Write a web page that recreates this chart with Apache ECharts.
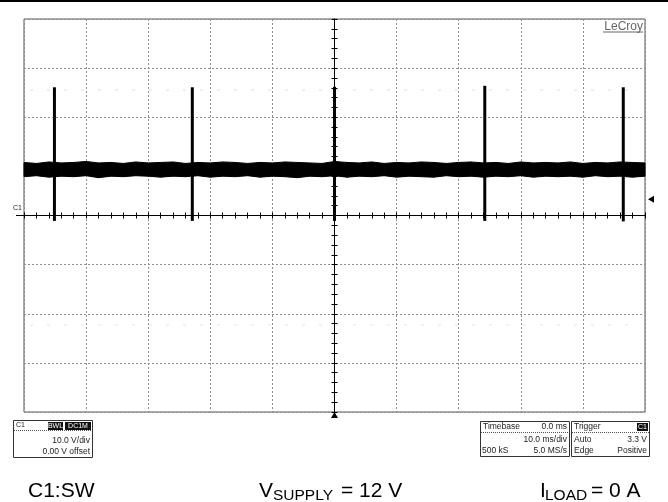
<!DOCTYPE html>
<html>
<head>
<meta charset="utf-8">
<title>C1:SW</title>
<script src="https://cdn.jsdelivr.net/npm/echarts@6/dist/echarts.min.js"></script>
<style>
  body { margin: 0; background: #fff; }
  #main { width: 668px; height: 502px; }
</style>
</head>
<body>
<div id="main"></div>
<script>
// scope settings: 10 ms/div, 10 V/div, 0 V offset
var timeRange = [-50, 50];   // ms
var voltRange = [-40, 40];   // V
var trigTime = 0.0;          // ms
var trigLevel = 3.3;         // V

// noise band of the SW node, envelope read every 2 ms
var noiseT = [-50,-48,-46,-44,-42,-40,-38,-36,-34,-32,-30,-28,-26,-24,-22,-20,-18,-16,-14,-12,-10,-8,-6,-4,-2,0,
              2,4,6,8,10,12,14,16,18,20,22,24,26,28,30,32,34,36,38,40,42,44,46,48,50];
var noiseHigh = [10.8,10.6,10.9,10.7,10.8,11.0,10.7,10.8,10.6,10.9,
                 10.7,10.8,10.9,10.6,10.8,10.7,10.9,10.8,10.6,10.8,
                 10.7,10.9,10.8,10.7,10.6,11.0,10.8,10.7,10.9,10.6,
                 10.8,10.7,10.9,10.8,10.6,10.8,10.9,10.7,10.8,10.6,
                 10.9,10.7,10.8,10.7,10.9,10.6,10.8,10.7,10.9,10.8,10.7];
var noiseLow = [7.9,8.1,7.8,8.0,7.9,8.1,7.7,8.0,7.9,8.1,
                8.0,7.8,8.0,7.9,8.1,7.8,8.0,7.9,8.1,7.8,
                8.0,7.9,7.7,8.0,7.9,8.1,7.8,8.0,7.9,8.1,
                7.8,8.0,7.9,7.8,8.1,7.9,8.0,7.8,8.0,7.9,
                8.1,7.8,8.0,7.9,8.0,7.8,8.1,7.9,8.0,7.8,8.0];

// switching bursts
var spikeT = [-45.1, -22.9, 0.0, 24.2, 46.5];
var spikeHigh = [26.1, 26.1, 26.2, 26.4, 26.1];
var spikeLow = [-1.1, -1.1, -1.1, -1.1, -1.2];

var chart = echarts.init(document.getElementById('main'), null, {renderer: 'canvas'});

var bandData = [], spikeData = [];
for (var i = 0; i < noiseT.length; i++) {
    bandData.push([noiseT[i], noiseLow[i], noiseHigh[i]]);
}
for (var j = 0; j < spikeT.length; j++) {
    spikeData.push([spikeT[j], spikeLow[j], spikeHigh[j]]);
}

var FONT = 'Liberation Sans';
var gridSplit = {show: true, lineStyle: {color: '#8f8f8f', type: [2, 2], width: 1}};
var blk = {color: '#000', width: 1};

function xAx(pos, split) {
    return {
        type: 'value', min: timeRange[0], max: timeRange[1], interval: 10, position: pos,
        axisLine: {show: true, onZero: true, onZeroAxisIndex: 0, lineStyle: blk},
        axisTick: {show: true, length: 3, lineStyle: blk},
        minorTick: {show: true, splitNumber: 5, length: 3, lineStyle: blk},
        axisLabel: {show: false},
        splitLine: split ? gridSplit : {show: false}
    };
}
function yAx(pos, split) {
    return {
        type: 'value', min: voltRange[0], max: voltRange[1], interval: 10, position: pos,
        axisLine: {show: true, onZero: true, onZeroAxisIndex: 0, lineStyle: blk},
        axisTick: {show: true, length: 3, lineStyle: blk},
        minorTick: {show: true, splitNumber: 5, length: 3, lineStyle: blk},
        axisLabel: {show: false},
        splitLine: split ? gridSplit : {show: false}
    };
}

function txt(x, y, s, align, size, color) {
    return {type: 'text', x: x, y: y, silent: true,
        style: {text: s, fill: color || '#222', font: (size || 8) + 'px "' + FONT + '"',
            align: align || 'left', verticalAlign: 'middle'}};
}
function box(x, y, w, h) {
    return {type: 'rect', shape: {x: x, y: y, width: w, height: h},
        style: {fill: '#fff', stroke: '#333', lineWidth: 1}};
}
function dots(x1, x2, y) {
    return {type: 'line', shape: {x1: x1, y1: y, x2: x2, y2: y},
        style: {stroke: '#555', lineWidth: 1, lineDash: [1, 1]}};
}
function badge(x, y, w, s) {
    return [
        {type: 'rect', shape: {x: x, y: y, width: w, height: 8}, style: {fill: '#111'}},
        txt(x + w / 2, y + 4, s, 'center', 7, '#fff')
    ];
}

var graphics = [
    // page rule
    {type: 'rect', shape: {x: 0, y: 0, width: 668, height: 2}, style: {fill: '#000'}},
    // LeCroy logo
    txt(643, 26.5, 'LeCroy', 'right', 12, '#666'),
    {type: 'line', shape: {x1: 603, y1: 32, x2: 643, y2: 32}, style: {stroke: '#666', lineWidth: 1}},
    // faint display rows
    {type: 'line', shape: {x1: 30, y1: 90, x2: 640, y2: 90}, style: {stroke: '#dcdcdc', lineWidth: 1, lineDash: [3, 14]}},
    {type: 'line', shape: {x1: 30, y1: 325, x2: 640, y2: 325}, style: {stroke: '#e2e2e2', lineWidth: 1, lineDash: [3, 14]}},
    // channel box
    box(13.5, 420.5, 79, 37),
    dots(14, 92, 430.5),
    txt(16, 425, 'C1', 'left', 7),
    txt(90, 441, '10.0 V/div', 'right', 8.5),
    txt(90, 451.5, '0.00 V offset', 'right', 8.5),
    // timebase box
    box(480.5, 421.5, 89, 35),
    dots(481, 569, 432.5),
    txt(483, 427, 'Timebase', 'left', 8.5),
    txt(567, 427, '0.0 ms', 'right', 8.5),
    txt(567, 440, '10.0 ms/div', 'right', 8.5),
    txt(482, 451, '500 kS', 'left', 8.5),
    txt(567, 451, '5.0 MS/s', 'right', 8.5),
    // trigger box
    box(571.5, 421.5, 78, 35),
    dots(572, 649, 432.5),
    txt(574, 427, 'Trigger', 'left', 8.5),
    txt(574, 440, 'Auto', 'left', 8.5),
    txt(647, 440, '3.3 V', 'right', 8.5),
    txt(574, 451, 'Edge', 'left', 8.5),
    txt(647, 451, 'Positive', 'right', 8.5),
    // captions
    txt(28, 491, 'C1:SW', 'left', 21, '#000'),
    txt(259, 491, 'V', 'left', 21, '#000'),
    txt(273, 496, 'SUPPLY', 'left', 15.5, '#000'),
    txt(341, 491, '= 12 V', 'left', 21, '#000'),
    txt(540, 491, 'I', 'left', 21, '#000'),
    txt(545, 496, 'LOAD', 'left', 15.5, '#000'),
    txt(591, 491, '= 0 A', 'left', 21, '#000')
];
graphics = graphics.concat(badge(48, 422, 15, 'BWL'), badge(65, 422, 26, 'DC1M'), badge(637, 423, 11, 'C1'));

var option = {
    animation: false,
    backgroundColor: '#fff',
    grid: {left: 24, top: 19, width: 621, height: 393, show: true, borderColor: '#555', borderWidth: 1, containLabel: false},
    xAxis: [xAx('bottom', true), xAx('top', false)],
    yAxis: [yAx('left', true), yAx('right', false)],
    series: [
        {
            // envelope of the noise band, one quad per sample step
            name: 'band', type: 'custom', data: bandData, z: 3,
            encode: {x: 0, y: [1, 2]},
            renderItem: function (params, api) {
                var k = params.dataIndex;
                if (k >= noiseT.length - 1) return null;
                var a = api.coord([noiseT[k], noiseHigh[k]]);
                var b = api.coord([noiseT[k + 1], noiseHigh[k + 1]]);
                var c = api.coord([noiseT[k + 1], noiseLow[k + 1]]);
                var d = api.coord([noiseT[k], noiseLow[k]]);
                return {type: 'polygon', shape: {points: [a, b, c, d]},
                    style: {fill: '#000', stroke: '#000', lineWidth: 1}};
            },
            markPoint: {
                symbol: 'triangle', label: {show: false}, itemStyle: {color: '#000'},
                data: [
                    {coord: [trigTime, voltRange[0]], symbolSize: [7, 6], symbolOffset: [0, 3]},
                    {coord: [timeRange[1], trigLevel], symbolSize: [7, 6], symbolRotate: 90, symbolOffset: [6, 0]}
                ]
            }
        },
        {
            name: 'spikes', type: 'custom', data: spikeData, z: 4,
            encode: {x: 0, y: [1, 2]},
            renderItem: function (params, api) {
                var top = api.coord([api.value(0), api.value(2)]);
                var bot = api.coord([api.value(0), api.value(1)]);
                return {type: 'rect', shape: {x: top[0] - 1.5, y: top[1], width: 3, height: bot[1] - top[1]},
                    style: {fill: '#000'}};
            }
        }
    ],
    graphic: graphics
};
chart.setOption(option);

// C1 ground marker at the left edge
var g0 = chart.convertToPixel({gridIndex: 0}, [timeRange[0], 0]);
chart.setOption({graphic: graphics.concat([
    txt(g0[0] - 11, g0[1] - 7, 'C1', 'left', 7),
    {type: 'line', shape: {x1: g0[0] - 8, y1: g0[1], x2: g0[0], y2: g0[1]}, style: {stroke: '#000', lineWidth: 1}}
])});
</script>
</body>
</html>
